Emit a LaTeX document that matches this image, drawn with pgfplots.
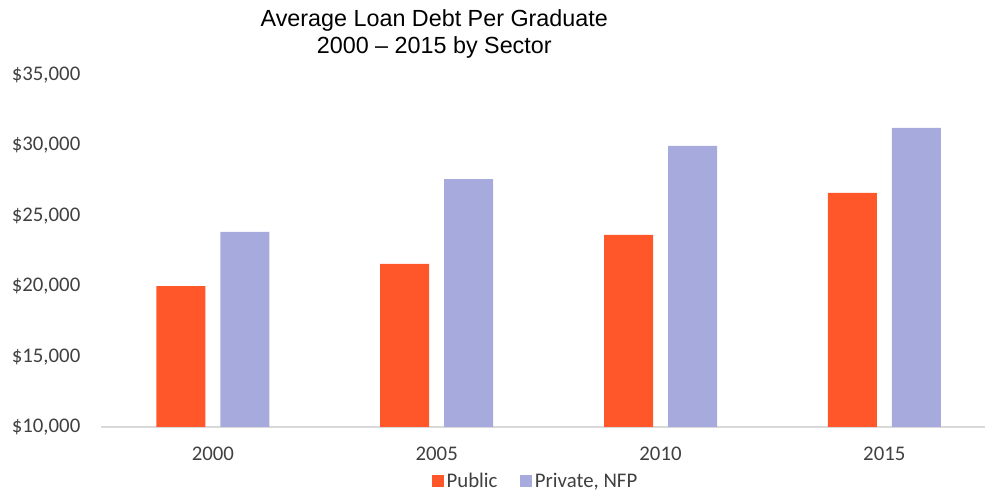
\documentclass[border=0pt]{standalone}
\usepackage{fontspec}
\setmainfont{Carlito}
\newfontfamily\arialfont{Liberation Sans}
\usepackage{pgfplots}
\pgfplotsset{compat=1.18}
\definecolor{pubc}{RGB}{255,86,42}
\definecolor{privc}{RGB}{166,170,220}
\begin{document}
\begin{tikzpicture}
\path[use as bounding box] (0,0) rectangle (744pt,372pt);
\begin{axis}[
  at={(75.75pt,51.75pt)}, anchor=south west,
  scale only axis, width=663pt, height=264pt,
  ybar=11.25pt, bar width=36.75pt,
  xmin=-0.5, xmax=3.45, ymin=10000, ymax=35000,
  scaled y ticks=false,
  xtick={0,1,2,3}, xticklabels={2000,2005,2010,2015},
  ytick={10000,15000,20000,25000,30000,35000},
  yticklabels={{\$10,000},{\$15,000},{\$20,000},{\$25,000},{\$30,000},{\$35,000}},
  axis x line*=bottom, axis y line*=left,
  x axis line style={draw=gray!30, line width=0.8pt, -},
  y axis line style={draw=none},
  tick style={draw=none},
  ticklabel style={font=\fontsize{15.6pt}{18pt}\selectfont, text=black!75},
  yticklabel style={xshift=-12pt},
  xticklabel style={yshift=-7pt},
  title={Average Loan Debt Per Graduate\\2000 – 2015 by Sector},
  title style={at={(0.377,1.093)}, anchor=center, align=center, font=\arialfont\fontsize{17.5pt}{20.5pt}\selectfont},
  legend columns=2,
  legend style={at={(0.492,-0.153)}, anchor=center, draw=none, font=\fontsize{15.6pt}{18pt}\selectfont, text=black!75, /tikz/every even column/.append style={column sep=15pt}},
  legend image code/.code={\fill[#1] (0pt,-4.5pt) rectangle (9pt,4.5pt);},
]
\addplot[fill=pubc, draw=none] coordinates {(0,20000) (1,21580) (2,23640) (3,26620)};
\addplot[fill=privc, draw=none] coordinates {(0,23850) (1,27600) (2,29960) (3,31240)};
\legend{Public, {Private, NFP}}
\end{axis}
\end{tikzpicture}
\end{document}
